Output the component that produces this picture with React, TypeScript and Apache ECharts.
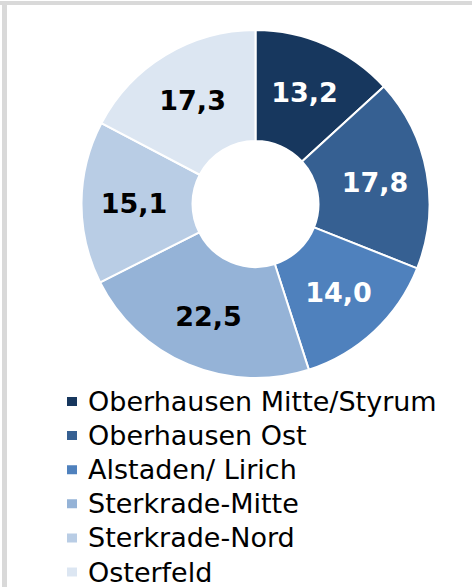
import React, { useEffect, useRef } from "react";
import * as echarts from "echarts";

const categories = [
  "Oberhausen Mitte/Styrum",
  "Oberhausen Ost",
  "Alstaden/ Lirich",
  "Sterkrade-Mitte",
  "Sterkrade-Nord",
  "Osterfeld",
];
const values = [13.2, 17.8, 14.0, 22.5, 15.1, 17.3];
const colors = ["#17375e", "#366092", "#4f81bd", "#95b3d7", "#b9cde5", "#dce6f2"];
const labelColors = ["#ffffff", "#ffffff", "#ffffff", "#000000", "#000000", "#000000"];

export default function App() {
  const ref = useRef<HTMLDivElement>(null);
  useEffect(() => {
    if (!ref.current) return;
    const chart = echarts.init(ref.current, undefined, { renderer: "svg" });
    chart.setOption({
      animation: false,
      backgroundColor: "#ffffff",
      graphic: [
        { type: "rect", shape: { x: 0, y: 1, width: 472, height: 4 }, style: { fill: "#d9d9d9" } },
        { type: "rect", shape: { x: 2, y: 1, width: 5, height: 586 }, style: { fill: "#d9d9d9" } },
      ],
      legend: {
        orient: "vertical",
        left: 65,
        top: 388,
        padding: 0,
        itemWidth: 12,
        itemHeight: 11,
        itemGap: 7.1,
        icon: "rect",
        data: categories,
        textStyle: {
          fontFamily: "DejaVu Sans",
          fontSize: 27,
          color: "#000000",
          lineHeight: 27,
          padding: [0, 0, 0, 5],
        },
      },
      series: [
        {
          type: "pie",
          center: [255.5, 204],
          radius: [63, 174],
          startAngle: 90,
          clockwise: true,
          avoidLabelOverlap: false,
          itemStyle: { borderColor: "#ffffff", borderWidth: 2 },
          label: {
            show: true,
            position: "inside",
            fontFamily: "DejaVu Sans",
            fontWeight: "bold",
            fontSize: 27,
            formatter: (p: any) => Number(p.value).toFixed(1).replace(".", ","),
          },
          labelLine: { show: false },
          emphasis: { disabled: true },
          data: categories.map((name, i) => ({
            name,
            value: values[i],
            itemStyle: { color: colors[i] },
            label: { color: labelColors[i] },
          })),
        },
      ],
    });
    return () => chart.dispose();
  }, []);
  return (
    <div
      ref={ref}
      style={{ position: "fixed", left: 0, top: 0, width: 472, height: 587, background: "#fff" }}
    />
  );
}
